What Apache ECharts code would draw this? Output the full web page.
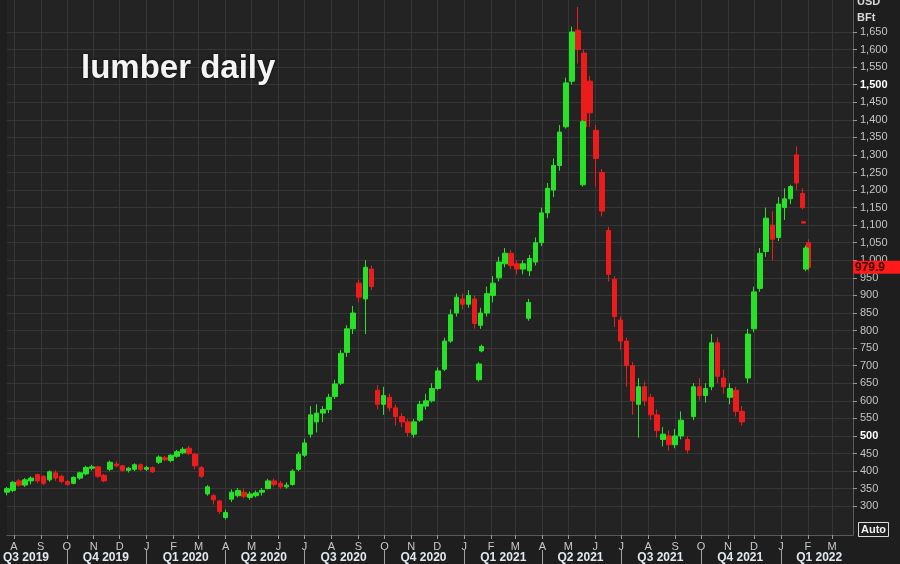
<!DOCTYPE html>
<html>
<head>
<meta charset="utf-8">
<title>lumber daily</title>
<script src="https://cdn.jsdelivr.net/npm/echarts@6/dist/echarts.min.js"></script>
<style>
  html, body { margin: 0; padding: 0; background: #1e1e1e; }
  #chart { width: 900px; height: 564px; }
</style>
</head>
<body>
<div id="chart"></div>
<script>
// weekly candles
const weeks = [
  "2019-07-24","2019-07-31","2019-08-07","2019-08-14","2019-08-21","2019-08-28","2019-09-04","2019-09-11","2019-09-18","2019-09-25",
  "2019-10-02","2019-10-09","2019-10-16","2019-10-23","2019-10-30","2019-11-06","2019-11-13","2019-11-20","2019-11-27","2019-12-04",
  "2019-12-11","2019-12-18","2019-12-25","2020-01-01","2020-01-08","2020-01-15","2020-01-22","2020-01-29","2020-02-05","2020-02-12",
  "2020-02-19","2020-02-26","2020-03-04","2020-03-11","2020-03-18","2020-03-25","2020-04-01","2020-04-08","2020-04-15","2020-04-22",
  "2020-04-29","2020-05-06","2020-05-13","2020-05-20","2020-05-27","2020-06-03","2020-06-10","2020-06-17","2020-06-24","2020-07-01",
  "2020-07-08","2020-07-15","2020-07-22","2020-07-29","2020-08-05","2020-08-12","2020-08-19","2020-08-26","2020-09-02","2020-09-09",
  "2020-09-16","2020-09-23","2020-09-30","2020-10-07","2020-10-14","2020-10-21","2020-10-28","2020-11-04","2020-11-11","2020-11-18",
  "2020-11-25","2020-12-02","2020-12-09","2020-12-16","2020-12-23","2020-12-30","2021-01-06","2021-01-13","2021-01-20","2021-01-27",
  "2021-02-03","2021-02-10","2021-02-17","2021-02-24","2021-03-03","2021-03-10","2021-03-17","2021-03-24","2021-03-31","2021-04-07",
  "2021-04-14","2021-04-21","2021-04-28","2021-05-05","2021-05-12","2021-05-19","2021-05-26","2021-06-02","2021-06-09","2021-06-16",
  "2021-06-23","2021-06-30","2021-07-07","2021-07-14","2021-07-21","2021-07-28","2021-08-04","2021-08-11","2021-08-18","2021-08-25",
  "2021-09-01","2021-09-08","2021-09-15","2021-09-22","2021-09-29","2021-10-06","2021-10-13","2021-10-20","2021-10-27","2021-11-03",
  "2021-11-10","2021-11-17","2021-11-24","2021-12-01","2021-12-08","2021-12-15","2021-12-22","2021-12-29","2022-01-05","2022-01-12",
  "2022-01-19","2022-01-26","2022-02-02"
];
const opens = [
  340,345,372,360,372,390,385,375,395,385, 370,365,380,392,408,412,388,405,420,415,
  402,405,418,405,410,425,438,430,442,452, 465,448,410,335,330,315,268,320,330,340,
  325,330,340,350,372,365,355,362,405,445, 505,540,565,575,612,650,738,805,935,890,
  975,630,590,610,580,555,540,505,545,585, 600,635,690,770,850,890,875,890,815,850,
  900,950,990,1020,990,975,970,995,1050,1135, 1200,1270,1380,1510,1655,1590,1510,1370,1250,1085,
  945,830,770,700,590,640,610,560,490,500, 475,500,490,555,640,615,640,765,665,610,
  630,570,665,805,920,1025,1100,1065,1150,1175, 1300,1190,1050
];
const closes = [
  350,368,360,375,380,372,365,398,380,370, 362,382,395,410,412,385,372,425,415,402,
  408,418,405,410,398,440,432,445,455,462, 450,415,385,355,318,285,282,340,345,328,
  335,338,345,372,362,355,360,400,448,480, 560,565,575,610,648,735,805,850,895,980,
  925,590,615,580,555,540,510,540,590,600, 635,685,770,845,895,875,900,820,850,905,
  935,995,1020,985,975,990,1005,1050,1135,1205, 1270,1365,1505,1650,1600,1380,1420,1290,1140,960,
  840,770,700,600,640,600,560,515,505,475, 500,545,460,640,615,635,765,670,640,635,
  570,540,790,910,1020,1120,1060,1160,1175,1210, 1220,1150,980
];
const lows = [
  331,340,355,355,362,365,360,370,372,365, 358,362,375,388,402,380,368,400,410,398,
  396,400,400,400,395,420,428,425,438,448, 445,405,380,330,305,278,262,312,325,322,
  318,325,330,348,355,350,350,358,400,440, 495,510,540,565,605,645,725,790,880,790,
  915,575,560,570,530,525,498,495,540,575, 595,630,685,765,840,860,865,805,805,840,
  880,940,980,975,960,960,955,985,1040,1120, 1180,1255,1375,1500,1560,1340,1380,1210,1125,940,
  810,745,640,560,495,585,545,495,470,458, 465,490,450,545,600,595,630,650,620,590,
  555,530,650,795,910,1010,1000,1055,1115,1160, 1200,1145,969
];
const highs = [
  355,372,378,380,385,392,388,402,402,390, 375,385,398,415,418,415,392,430,428,418,
  412,422,422,415,413,445,443,448,460,468, 472,452,415,360,335,318,290,348,352,350,
  342,345,352,378,378,372,368,405,455,492, 585,590,585,620,660,745,815,870,945,1000,
  985,645,640,620,590,565,548,548,600,620, 650,695,780,860,905,905,915,900,865,925,
  955,1010,1035,1030,1000,1000,1015,1065,1150,1220, 1290,1385,1520,1665,1721,1600,1525,1385,1260,1095,
  955,840,780,710,665,655,620,575,525,515, 520,570,500,650,665,650,790,780,690,650,
  640,585,805,925,1035,1150,1140,1180,1205,1215, 1324,1205,1060
];

// odd bars standing apart from the main run
const extraDates = ["2021-01-18", "2021-01-21", "2021-03-16", "2021-05-18", "2022-01-27", "2022-01-30"];
const extraOpens = [660, 742, 835, 1215, 1110, 975];
const extraCloses = [705, 755, 880, 1395, 1106, 1035];
const extraLows = [655, 738, 828, 1210, 1104, 969];
const extraHighs = [710, 760, 890, 1400, 1112, 1042];

const lastPrice = 979.9;

const priceTicks = [300,350,400,450,500,550,600,650,700,750,800,850,900,950,1000,
  1050,1100,1150,1200,1250,1300,1350,1400,1450,1500,1550,1600,1650];
const boldTicks = [500, 1500];

const monthTicks = [
  "2019-08-01","2019-09-01","2019-10-01","2019-11-01","2019-12-01","2020-01-01","2020-02-01","2020-03-01",
  "2020-04-01","2020-05-01","2020-06-01","2020-07-01","2020-08-01","2020-09-01","2020-10-01","2020-11-01",
  "2020-12-01","2021-01-01","2021-02-01","2021-03-01","2021-04-01","2021-05-01","2021-06-01","2021-07-01",
  "2021-08-01","2021-09-01","2021-10-01","2021-11-01","2021-12-01","2022-01-01","2022-02-01","2022-03-01"
];
const monthLabels = ["A","S","O","N","D","J","F","M","A","M","J","J","A","S","O","N","D","J","F","M",
  "A","M","J","J","A","S","O","N","D","J","F","M"];

const quarterStarts = ["2019-10-01","2020-01-01","2020-04-01","2020-07-01","2020-10-01",
  "2021-01-01","2021-04-01","2021-07-01","2021-10-01","2022-01-01"];
const quarterMids = ["2019-08-15","2019-11-15","2020-02-15","2020-05-15","2020-08-15","2020-11-15",
  "2021-02-15","2021-05-15","2021-08-15","2021-11-15","2022-02-14"];
const quarterLabels = ["Q3 2019","Q4 2019","Q1 2020","Q2 2020","Q3 2020","Q4 2020",
  "Q1 2021","Q2 2021","Q3 2021","Q4 2021","Q1 2022"];

const xMin = "2019-07-24";
const xMax = "2022-03-25";

const UP = "#27e227";
const DOWN = "#ec1c1c";
const GRID = "#363636";

// dates -> local timestamps on a plain value axis
const ts = (d) => new Date(d + "T00:00:00").getTime();
const dayKey = (v) => echarts.time.format(v, "{yyyy}-{MM}-{dd}", false);

const chart = echarts.init(document.getElementById("chart"));

chart.setOption({
  backgroundColor: "#1e1e1e",
  animation: false,
  title: {
    text: "lumber daily",
    left: 81,
    top: 52,
    padding: 0,
    textStyle: {
      color: "#f4f4f4",
      fontSize: 33,
      fontWeight: "bold",
      fontFamily: "Liberation Sans",
      textShadowColor: "rgba(0,0,0,0.8)",
      textShadowBlur: 3,
    },
  },
  grid: {
    left: 0,
    right: 47,
    top: 0,
    bottom: 29,
    show: true,
    backgroundColor: "#232323",
    borderWidth: 0,
  },
  xAxis: [
    {
      type: "value",
      min: ts(xMin),
      max: ts(xMax),
      axisLine: { show: true, lineStyle: { color: "#5a5a5a" } },
      axisTick: { show: true, customValues: monthTicks.map(ts), length: 4, lineStyle: { color: "#9a9a9a" } },
      axisLabel: {
        customValues: monthTicks.map(ts),
        formatter: (v) => monthLabels[monthTicks.indexOf(dayKey(v))] || "",
        margin: 6,
        color: "#c8c8c8",
        fontSize: 11,
        fontFamily: "Liberation Sans",
      },
      splitLine: { show: true, lineStyle: { color: GRID } },
    },
    {
      type: "value",
      min: ts(xMin),
      max: ts(xMax),
      position: "bottom",
      offset: 15,
      axisLine: { show: false },
      axisTick: { show: true, customValues: quarterStarts.map(ts), length: 14, lineStyle: { color: "#a0a0a0" } },
      axisLabel: {
        customValues: quarterMids.map(ts),
        formatter: (v) => quarterLabels[quarterMids.indexOf(dayKey(v))] || "",
        margin: 2,
        color: "#e2e8ef",
        fontSize: 12,
        fontWeight: "bold",
        fontFamily: "Liberation Sans",
      },
      splitLine: { show: false },
    },
  ],
  yAxis: {
    type: "value",
    position: "right",
    min: 218,
    max: 1741,
    axisLine: { show: true, lineStyle: { color: "#5a5a5a" } },
    axisTick: { show: true, customValues: priceTicks, length: 4, lineStyle: { color: "#9a9a9a" } },
    axisLabel: {
      customValues: priceTicks,
      margin: 7,
      color: "#c4c4c4",
      fontSize: 11,
      fontFamily: "Liberation Sans",
      formatter: (v) => {
        const s = v.toLocaleString("en-US");
        return boldTicks.includes(v) ? "{b|" + s + "}" : s;
      },
      rich: { b: { color: "#ffffff", fontWeight: "bold", fontSize: 11, fontFamily: "Liberation Sans" } },
    },
    splitLine: { show: true, lineStyle: { color: GRID } },
  },
  graphic: [
    { type: "text", left: 857, top: -4, style: { text: "USD", fill: "#d8d8d8", font: 'bold 11px "Liberation Sans"' } },
    { type: "text", left: 857, top: 12, style: { text: "BFt", fill: "#d8d8d8", font: 'bold 11px "Liberation Sans"' } },
    {
      type: "group",
      left: 858,
      top: 522,
      children: [
        { type: "rect", shape: { x: 0.5, y: 0.5, width: 30, height: 14 }, style: { fill: "#1e1e1e", stroke: "#dcdcdc", lineWidth: 1 } },
        { type: "text", style: { text: "Auto", x: 15.5, y: 8, align: "center", verticalAlign: "middle", fill: "#f0f0f0", font: 'bold 11px "Liberation Sans"' } },
      ],
    },
  ],
  series: [
    {
      name: "lumber",
      type: "candlestick",
      xAxisIndex: 0,
      yAxisIndex: 0,
      barWidth: 5,
      data: weeks.map((d, i) => [ts(d), opens[i], closes[i], lows[i], highs[i]]),
      itemStyle: { color: UP, color0: DOWN, borderColor: UP, borderColor0: DOWN, borderWidth: 1 },
    },
    {
      name: "lumber-extra",
      type: "candlestick",
      xAxisIndex: 0,
      yAxisIndex: 0,
      barWidth: 5,
      data: extraDates.map((d, i) => [ts(d), extraOpens[i], extraCloses[i], extraLows[i], extraHighs[i]]),
      itemStyle: { color: UP, color0: DOWN, borderColor: UP, borderColor0: DOWN, borderWidth: 1 },
      markLine: {
        silent: true,
        symbol: ["none", "none"],
        lineStyle: { color: "rgba(0,0,0,0)", width: 0 },
        label: {
          show: true,
          position: "end",
          distance: 0,
          formatter: String(lastPrice),
          backgroundColor: "#ff1a1a",
          color: "#3a0000",
          fontWeight: "bold",
          fontSize: 12,
          fontFamily: "Liberation Sans",
          padding: [1, 16, 0, 2],
        },
        data: [{ yAxis: lastPrice }],
      },
    },
  ],
});

window.addEventListener("resize", () => chart.resize());
</script>
</body>
</html>
